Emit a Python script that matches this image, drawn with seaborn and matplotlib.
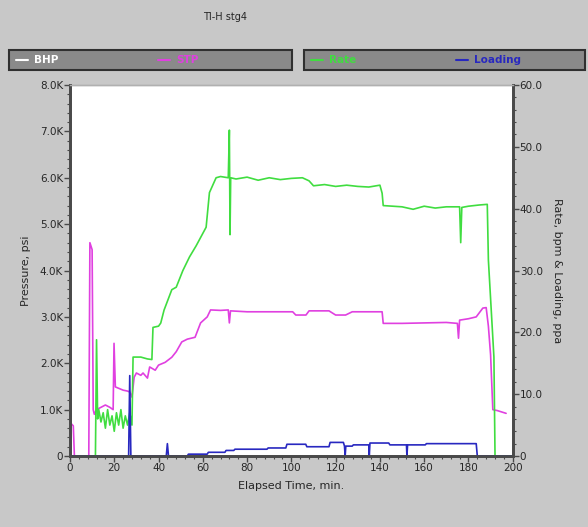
import pandas as pd
import matplotlib.pyplot as plt
import seaborn as sns
from matplotlib.lines import Line2D
from matplotlib.patches import Rectangle
from matplotlib.ticker import MultipleLocator, FuncFormatter

# STP (treating pressure), psi - left axis
stp_t = [0, 0.5, 1.5, 2, 8.5, 9, 10, 10.5, 11, 12, 14, 16, 18, 19.5, 19.9, 20.5, 22, 24, 26, 27,
         28, 29, 30, 32, 33, 35, 36, 38.5, 40, 43, 46, 48, 50.5, 53, 56.5, 59, 62, 63.5, 68, 71.5,
         72, 72.5, 80, 90, 100.6, 102, 106.6, 108, 117, 120, 124.5, 127.5, 141, 141.5, 150, 160,
         170, 175, 175.5, 176, 180, 183.5, 186.5, 188, 189, 190, 191, 193, 195, 197]
stp_v = [0, 700, 650, 0, 0, 4600, 4450, 1000, 900, 1000, 1050, 1100, 1050, 1000, 2430, 1490, 1460, 1420, 1400, 1380,
         1270, 1700, 1790, 1740, 1790, 1680, 1920, 1850, 1960, 2020, 2130, 2250, 2460, 2520, 2560, 2870, 3000, 3150, 3140, 3150,
         2870, 3130, 3110, 3110, 3110, 3040, 3040, 3130, 3130, 3040, 3040, 3110, 3110, 2860, 2860, 2870,
         2880, 2860, 2540, 2930, 2960, 3000, 3190, 3200, 2800, 2180, 1000, 980, 950, 920]

# Slurry rate, bpm - right axis
rate_t = [0, 11.5, 12, 12.5, 13, 14, 15, 16, 17, 18, 19, 20, 21, 22, 23, 24, 25, 26, 27, 28,
          28.5, 32, 35, 37, 37.5, 40, 41, 42.5, 46, 48, 51, 54, 57, 60, 61.5, 63, 66, 68, 71.5, 72,
          72.3, 72.6, 75, 80, 85, 90, 95, 100, 105, 108, 110, 115, 120, 125, 130, 135, 140, 141, 141.5, 150,
          155, 160, 165, 170, 176, 176.5, 177, 180, 185, 188.5, 189, 191.5, 192, 200]
rate_v = [0, 0, 18.8, 6, 7.5, 5.5, 7, 4.5, 7.5, 5, 6.5, 4, 7, 5, 7.5, 4.5, 6.5, 5, 7, 5,
          16, 16, 15.7, 15.6, 20.8, 21, 21.5, 23.6, 26.9, 27.3, 30, 32.2, 34, 36, 37, 42.6, 45, 45.2, 45, 52.7,
          35.8, 45, 44.8, 45.1, 44.6, 45, 44.7, 44.9, 45, 44.5, 43.7, 43.9, 43.6, 43.8, 43.6, 43.5, 43.8, 42.5, 40.5, 40.3,
          39.9, 40.4, 40.1, 40.3, 40.3, 34.5, 40.2, 40.4, 40.6, 40.7, 31.7, 16, 0, 0]

# Proppant loading, ppa - right axis
load_t = [0, 26.5, 27, 27.5, 43.5, 44, 44.5, 53, 53.5, 62, 62.5, 70, 70.5, 74, 74.5, 89, 89.5, 97.5, 98,
          106.5, 107, 117, 117.5, 123.5, 124, 124.3, 124.6, 127.5, 128, 135, 135.2, 135.5, 144, 144.5,
          152, 152.2, 152.5, 160.5, 161, 183.5, 184, 200]
load_v = [0, 0, 13, 0, 0, 2.0, 0, 0, 0.3, 0.3, 0.6, 0.6, 0.9, 0.9, 1.1, 1.1, 1.3, 1.3, 1.9,
          1.9, 1.5, 1.5, 2.2, 2.2, 1.6, 0, 1.6, 1.6, 1.8, 1.8, 0, 2.1, 2.1, 1.8,
          1.8, 0, 1.8, 1.8, 2.0, 2.0, 0, 0]

stp = pd.DataFrame({'t': stp_t, 'v': stp_v})
rate = pd.DataFrame({'t': rate_t, 'v': rate_v})
load = pd.DataFrame({'t': load_t, 'v': load_v})

bg = '#c8c8c8'
spine = '#4a4a4a'
sns.set_style('white')
plt.rcParams['font.family'] = ['DejaVu Sans']

fig = plt.figure(figsize=(5.88, 5.27), dpi=100, facecolor=bg)
ax = fig.add_axes([0.119, 0.1347, 0.753, 0.704])
ax2 = ax.twinx()

sns.lineplot(data=stp, x='t', y='v', ax=ax, color='#e040e0', lw=1.2, estimator=None, sort=False)
sns.lineplot(data=rate, x='t', y='v', ax=ax2, color='#40dd40', lw=1.2, estimator=None, sort=False)
sns.lineplot(data=load, x='t', y='v', ax=ax2, color='#2828c0', lw=1.2, estimator=None, sort=False)

ax.set_xlim(0, 200)
ax.set_ylim(0, 8000)
ax2.set_ylim(0, 60)
ax.set_facecolor('white')

ax.xaxis.set_major_locator(MultipleLocator(20))
ax.xaxis.set_minor_locator(MultipleLocator(4))
ax.yaxis.set_major_locator(MultipleLocator(1000))
ax.yaxis.set_minor_locator(MultipleLocator(200))
ax2.yaxis.set_major_locator(MultipleLocator(10))
ax2.yaxis.set_minor_locator(MultipleLocator(2))
ax.yaxis.set_major_formatter(FuncFormatter(lambda v, p: '0' if v == 0 else f'{v/1000:.1f}K'))
ax2.yaxis.set_major_formatter(FuncFormatter(lambda v, p: '0' if v == 0 else f'{v:.1f}'))

for a in (ax, ax2):
    a.tick_params(which='major', length=4, width=1, color=spine, labelsize=7.5, pad=1)
    a.tick_params(which='minor', length=2, width=0.8, color=spine)
    for s in ('left', 'right', 'bottom'):
        a.spines[s].set_color(spine)
        a.spines[s].set_linewidth(2)
    a.spines['top'].set_color('#b0b0b0')
    a.spines['top'].set_linewidth(1)
ax.tick_params(axis='x', which='both', bottom=True)
ax.tick_params(axis='y', which='both', left=True)
ax2.tick_params(axis='y', which='both', right=True)

ax.set_xlabel('Elapsed Time, min.', fontsize=8, labelpad=6)
ax.set_ylabel('Pressure, psi', fontsize=8, labelpad=6)
ax2.set_ylabel('Rate, bpm & Loading, ppa', fontsize=8, rotation=-90, labelpad=14)

fig.text(0.382, 0.967, 'TI-H stg4', fontsize=7, ha='center', va='center')

# two legend boxes above the plot
fig.patches.append(Rectangle((9 / 588, 1 - 70 / 527), 283 / 588, 20 / 527, transform=fig.transFigure,
                             facecolor='#8a8a8a', edgecolor='#303030', lw=1.5))
fig.patches.append(Rectangle((304 / 588, 1 - 70 / 527), 281 / 588, 20 / 527, transform=fig.transFigure,
                             facecolor='#8a8a8a', edgecolor='#303030', lw=1.5))
items = [('BHP', 'white', 16), ('STP', '#e040e0', 158), ('Rate', '#40dd40', 311), ('Loading', '#2828c0', 456)]
for lab, col, x0 in items:
    fig.add_artist(Line2D([x0 / 588, (x0 + 12) / 588], [1 - 60 / 527] * 2, color=col, lw=1.5))
    fig.text((x0 + 18) / 588, 1 - 60 / 527, lab, color=col, fontsize=7.5, va='center', weight='bold')

fig.savefig('out.png', dpi=100, facecolor=bg)
